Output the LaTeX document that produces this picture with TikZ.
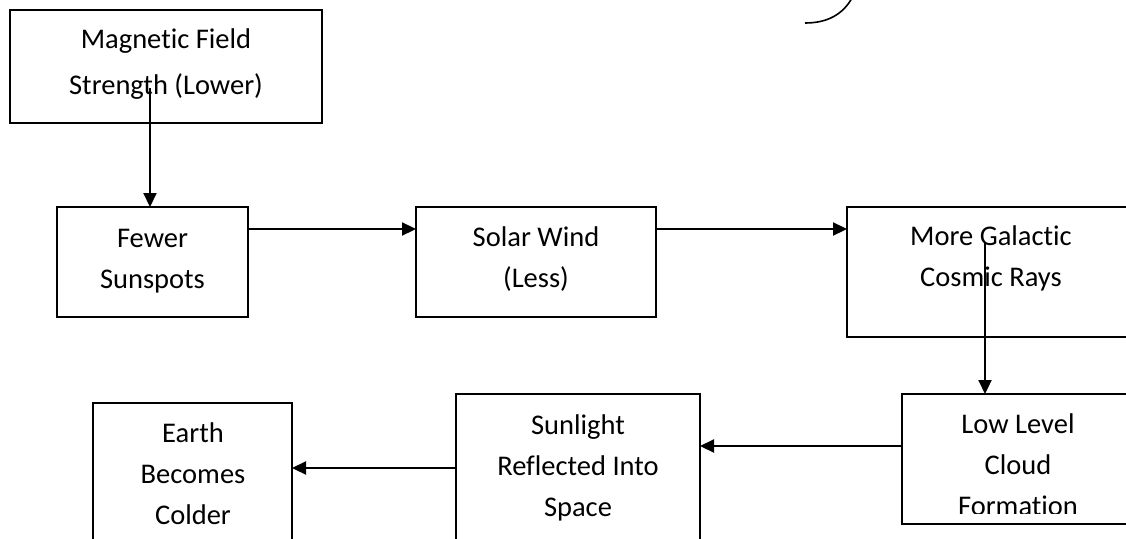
\documentclass[tikz,border=0pt]{standalone}
\usepackage{fontspec}
\setmainfont{Carlito}[Ligatures=NoCommon]
\usetikzlibrary{arrows.meta}
\newcommand\boxlines[1]{\begin{tabular}[t]{@{}c@{}}#1\end{tabular}}
\tikzset{
  stepbox/.style={draw=black, line width=2.2pt, rectangle, inner sep=0pt, outer sep=0pt, anchor=north west},
  lbl/.style={anchor=base, inner sep=0pt, font=\fontsize{28.5}{41}\selectfont},
  flow/.style={draw=black, line width=2.2pt, -{Triangle[length=14pt,width=13pt]}},
}
\begin{document}
\begin{tikzpicture}[x=1pt, y=-1pt]
\useasboundingbox (0,0) rectangle (1126,538);
\clip (0,0) rectangle (1126,538);

% boxes (corner, size)
\node[stepbox, minimum width=312pt, minimum height=113pt] (mag)      at (10,10)   {};
\node[stepbox, minimum width=191pt, minimum height=110pt] (fewer)    at (57,207)  {};
\node[stepbox, minimum width=240pt, minimum height=110pt] (solar)    at (416,207) {};
\node[stepbox, minimum width=288pt, minimum height=130pt] (galactic) at (847,207) {};
\node[stepbox, minimum width=232pt, minimum height=130pt] (low)      at (902,394) {};
\node[stepbox, minimum width=244pt, minimum height=160pt] (sun)      at (456,394) {};
\node[stepbox, minimum width=199pt, minimum height=150pt] (earth)    at (93,403)  {};

% labels
\node[lbl] (t-mag)   at (166,48)  {\boxlines{Magnetic Field\\[5pt]Strength (Lower)}};
\node[lbl] (t-fewer) at (152.5,247) {\boxlines{Fewer\\Sunspots}};
\node[lbl] (t-solar) at (536,246) {\boxlines{Solar Wind\\(Less)}};
\node[lbl] (t-gal)   at (991,245) {\boxlines{More Galactic\\Cosmic Rays}};
\begin{scope}
  \clip (902,394) rectangle (1134,513);
  \node[lbl] (t-low) at (1018,433) {\boxlines{Low Level\\Cloud\\Formation}};
\end{scope}
\node[lbl] (t-sun)   at (578,434) {\boxlines{Sunlight\\Reflected Into\\Space}};
\node[lbl] (t-earth) at (193,442) {\boxlines{Earth\\Becomes\\Colder}};

% connectors
\coordinate (magtail) at (150,88);
\coordinate (galtail) at (985,243);
\draw[flow] (magtail) -- (magtail |- fewer.north);
\draw[flow] ([yshift=-22pt]fewer.north east) -- ([yshift=-22pt]solar.north west);
\draw[flow] ([yshift=-22pt]solar.north east) -- ([yshift=-22pt]galactic.north west);
\draw[flow] (galtail) -- (galtail |- low.north);
\draw[flow] ([yshift=-52pt]low.north west) -- ([yshift=-52pt]sun.north east);
\draw[flow] ([yshift=-74pt]sun.north west) -- ([yshift=-65pt]earth.north east);

% stray stroke at the top
\coordinate (arcA) at (805,23);
\coordinate (arcB) at (852,-2);
\draw[line width=1.6pt] (arcA) .. controls (828,23) and (843,14) .. (arcB);
\end{tikzpicture}
\end{document}
